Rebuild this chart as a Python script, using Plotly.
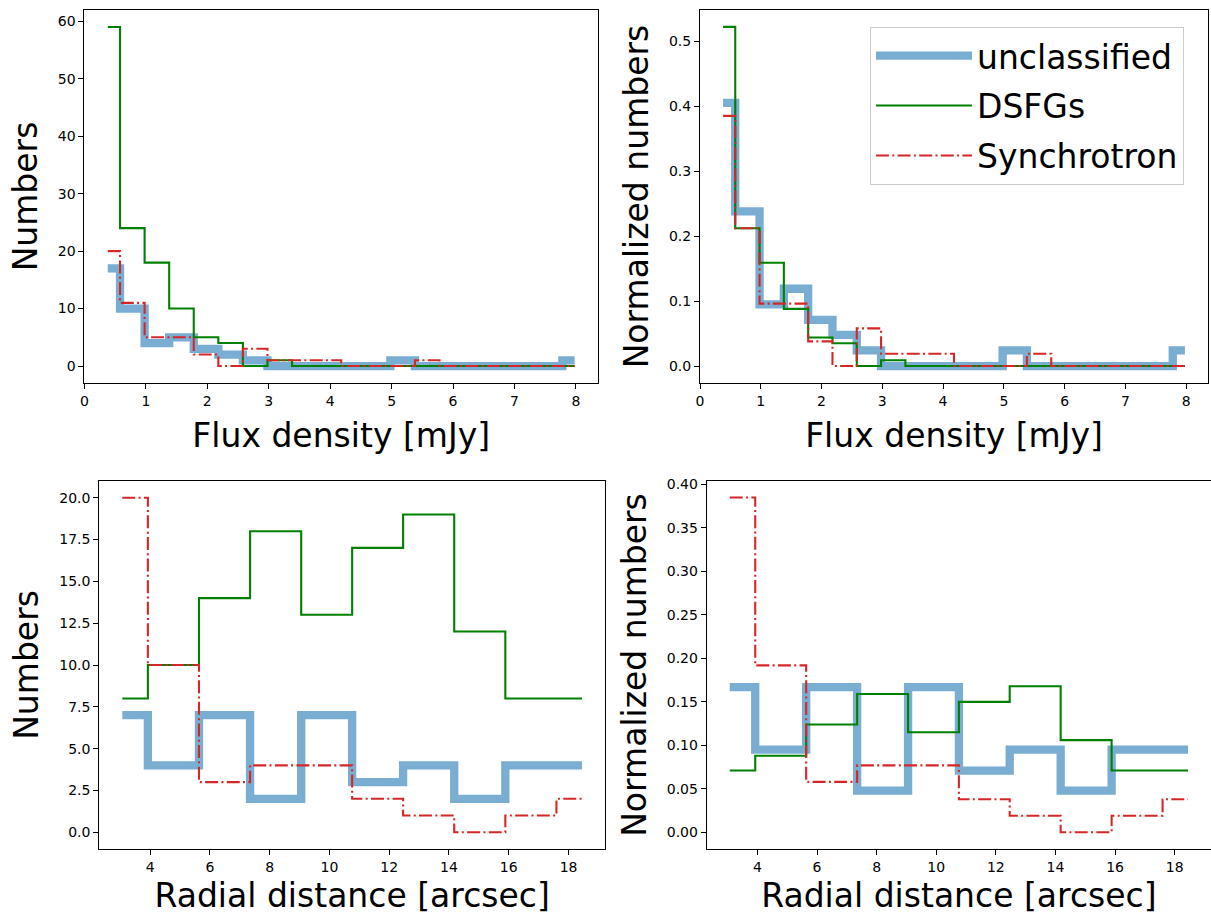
import plotly.graph_objects as go

# ---------------- data ----------------
flux_centers = [0.38, 0.78, 1.18, 1.58, 1.98, 2.38, 2.78, 3.18, 3.58, 3.98,
                4.38, 4.78, 5.18, 5.58, 5.98, 6.38, 6.78, 7.18, 7.58, 7.98]
flux_unclassified = [17, 10, 4, 5, 3, 2, 1, 0, 0, 0, 0, 0, 1, 0, 0, 0, 0, 0, 0, 1]
flux_dsfg = [59, 24, 18, 10, 5, 4, 0, 1, 0, 0, 0, 0, 0, 0, 0, 0, 0, 0, 0, 0]
flux_sync = [20, 11, 5, 5, 2, 0, 3, 1, 1, 1, 0, 0, 0, 1, 0, 0, 0, 0, 0, 0]

flux_norm_unclassified = [0.405, 0.238, 0.095, 0.119, 0.071, 0.048, 0.024, 0, 0, 0,
                          0, 0, 0.024, 0, 0, 0, 0, 0, 0, 0.024]
flux_norm_dsfg = [0.522, 0.212, 0.159, 0.088, 0.044, 0.035, 0, 0.009, 0, 0,
                  0, 0, 0, 0, 0, 0, 0, 0, 0, 0]
flux_norm_sync = [0.385, 0.212, 0.096, 0.096, 0.038, 0, 0.058, 0.019, 0.019, 0.019,
                  0, 0, 0, 0.019, 0, 0, 0, 0, 0, 0]

radial_centers = [3.07, 4.78, 6.49, 8.20, 9.91, 11.61, 13.32, 15.03, 16.74, 18.45]
radial_unclassified = [7, 4, 7, 2, 7, 3, 4, 2, 4, 4]
radial_dsfg = [8, 10, 14, 18, 13, 17, 19, 12, 8, 8]
radial_sync = [20, 10, 3, 4, 4, 2, 1, 0, 1, 2]

radial_norm_unclassified = [0.167, 0.095, 0.167, 0.048, 0.167, 0.071, 0.095, 0.048, 0.095, 0.095]
radial_norm_dsfg = [0.071, 0.088, 0.124, 0.159, 0.115, 0.150, 0.168, 0.106, 0.071, 0.071]
radial_norm_sync = [0.385, 0.192, 0.058, 0.077, 0.077, 0.038, 0.019, 0, 0.019, 0.038]

series_names = ["unclassified", "DSFGs", "Synchrotron"]

# ---------------- styles ----------------
W, H = 1211, 915
FONT = "DejaVu Sans"
BLUE = "rgba(31,119,180,0.6)"
GREEN = "rgb(0,128,0)"
RED = "#d62728"
DASHDOT = "13px,3.3px,2px,3.3px"

styles = [
    dict(color=BLUE, width=8.3),
    dict(color=GREEN, width=2.1),
    dict(color=RED, width=2.1, dash=DASHDOT),
]

panels = [
    ("x", "y", flux_centers, [flux_unclassified, flux_dsfg, flux_sync]),
    ("x2", "y2", flux_centers, [flux_norm_unclassified, flux_norm_dsfg, flux_norm_sync]),
    ("x3", "y3", radial_centers, [radial_unclassified, radial_dsfg, radial_sync]),
    ("x4", "y4", radial_centers, [radial_norm_unclassified, radial_norm_dsfg, radial_norm_sync]),
]

fig = go.Figure()
for pi, (xa, ya, xs, ys_list) in enumerate(panels):
    for si, ys in enumerate(ys_list):
        fig.add_trace(go.Scatter(
            x=xs, y=ys, mode="lines", line=dict(shape="hvh", **styles[si]),
            name=series_names[si], legendgroup=series_names[si],
            xaxis=xa, yaxis=ya,
            showlegend=(pi == 1), hoverinfo="skip",
        ))


def px_x(a, b):
    return [a / W, min(b / W, 1.0)]


def px_y(top, bottom):
    return [1 - bottom / H, 1 - top / H]


axis_common = dict(
    showline=True, linecolor="black", linewidth=1.1, mirror=True,
    ticks="outside", ticklen=5, tickwidth=1.1, tickcolor="black",
    showgrid=False, zeroline=False, automargin=False,
    tickfont=dict(family=FONT, size=14, color="black"),
    title_font=dict(family=FONT, size=33, color="black"),
)

fig.update_layout(
    width=W, height=H,
    margin=dict(l=0, r=0, t=0, b=0, autoexpand=False),
    paper_bgcolor="white", plot_bgcolor="white",
    font=dict(family=FONT, color="black"),
    xaxis=dict(domain=px_x(84.4, 598), range=[0, 8.36], dtick=1, tick0=0,
               anchor="y", title=dict(text="Flux density [mJy]", standoff=16), **axis_common),
    yaxis=dict(domain=px_y(10, 383), range=[-2.95, 61.95], dtick=10, tick0=0,
               anchor="x", title=dict(text="Numbers", standoff=10), **axis_common),
    xaxis2=dict(domain=px_x(700, 1208), range=[0, 8.36], dtick=1, tick0=0,
                anchor="y2", title=dict(text="Flux density [mJy]", standoff=16), **axis_common),
    yaxis2=dict(domain=px_y(10, 383), range=[-0.0261, 0.548], dtick=0.1, tick0=0,
                tickformat=".1f", anchor="x2",
                title=dict(text="Normalized numbers", standoff=10), **axis_common),
    xaxis3=dict(domain=px_x(99.3, 605), range=[2.30, 19.22], dtick=2, tick0=0,
                anchor="y3", title=dict(text="Radial distance [arcsec]", standoff=12), **axis_common),
    yaxis3=dict(domain=px_y(481, 849), range=[-1, 21], dtick=2.5, tick0=0,
                tickformat=".1f", anchor="x3", title=dict(text="Numbers", standoff=10), **axis_common),
    xaxis4=dict(domain=px_x(706.8, 1212), range=[2.30, 19.22], dtick=2, tick0=0,
                anchor="y4", title=dict(text="Radial distance [arcsec]", standoff=12), **axis_common),
    yaxis4=dict(domain=px_y(481, 849), range=[-0.0192, 0.404], dtick=0.05, tick0=0,
                tickformat=".2f", anchor="x4",
                title=dict(text="Normalized numbers", standoff=10), **axis_common),
    legend=dict(
        x=870 / W, y=1 - 26.7 / H, xanchor="left", yanchor="top",
        bgcolor="rgba(255,255,255,0.8)", bordercolor="#cccccc", borderwidth=1,
        font=dict(family=FONT, size=33, color="black"),
        itemwidth=96, tracegroupgap=4,
    ),
)

fig.write_html("out.html")
